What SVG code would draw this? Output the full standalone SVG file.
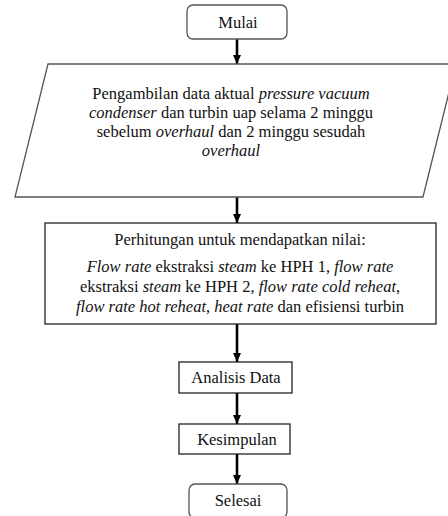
<svg xmlns="http://www.w3.org/2000/svg" width="448" height="516" viewBox="0 0 448 516">
<style>
text{font-family:"Liberation Serif","Times New Roman",serif;font-size:16.5px;fill:#111;text-anchor:middle}
.i{font-style:italic}
.term{fill:#fff;stroke:#555;stroke-width:1.3}
.box{fill:#fff;stroke:#222;stroke-width:1.3}
.io{fill:#fff;stroke:#555;stroke-width:1.3}
.conn{stroke:#000;stroke-width:2.6;fill:none;marker-end:url(#ah)}
</style>
<defs>
<marker id="ah" markerUnits="userSpaceOnUse" markerWidth="10" markerHeight="10" refX="9" refY="5" orient="auto">
<path d="M0,1 L9,5 L0,9 Z" fill="#000"/>
</marker>
</defs>
<g id="connectors">
<line class="conn" x1="237" y1="39" x2="237" y2="64"/>
<line class="conn" x1="237" y1="197" x2="237" y2="223"/>
<line class="conn" x1="237" y1="324" x2="237" y2="362"/>
<line class="conn" x1="237" y1="393" x2="237" y2="424"/>
<line class="conn" x1="237" y1="454" x2="237" y2="484"/>
</g>
<g id="mulai">
<rect class="term" x="187" y="5" width="100" height="34" rx="6"/>
<text x="238" y="28">Mulai</text>
</g>
<g id="pengambilan">
<polygon class="io" points="48,64 456,64 423,197 15,197"/>
<text x="231" y="99">Pengambilan data aktual <tspan class="i">pressure vacuum</tspan></text>
<text x="231" y="118"><tspan class="i">condenser</tspan> dan turbin uap selama 2 minggu</text>
<text x="231" y="137">sebelum <tspan class="i">overhaul</tspan> dan 2 minggu sesudah</text>
<text x="231" y="156" class="i">overhaul</text>
</g>
<g id="perhitungan">
<rect class="box" x="45" y="223" width="391" height="101"/>
<text x="240" y="245">Perhitungan untuk mendapatkan nilai:</text>
<text x="240" y="272"><tspan class="i">Flow rate</tspan> ekstraksi <tspan class="i">steam</tspan> ke HPH 1, <tspan class="i">flow rate</tspan></text>
<text x="240" y="292">ekstraksi <tspan class="i">steam</tspan> ke HPH 2, <tspan class="i">flow rate cold reheat</tspan>,</text>
<text x="240" y="312"><tspan class="i">flow rate hot reheat</tspan>, <tspan class="i">heat rate</tspan> dan efisiensi turbin</text>
</g>
<g id="analisis">
<rect class="box" x="179" y="362" width="113" height="31"/>
<text x="236" y="383">Analisis Data</text>
</g>
<g id="kesimpulan">
<rect class="box" x="179" y="424" width="111" height="30"/>
<text x="237" y="445">Kesimpulan</text>
</g>
<g id="selesai">
<rect class="term" x="189" y="484" width="98" height="34" rx="6"/>
<text x="238" y="506">Selesai</text>
</g>
</svg>
